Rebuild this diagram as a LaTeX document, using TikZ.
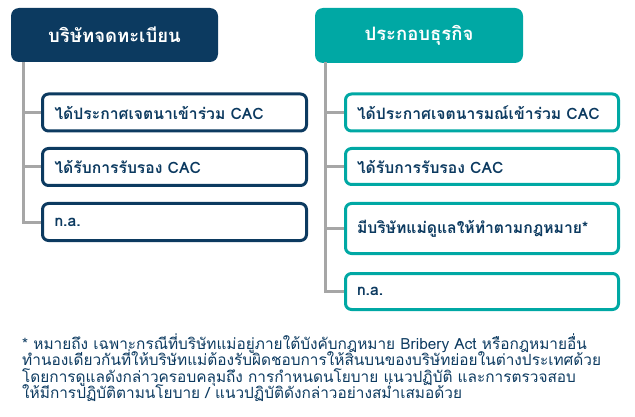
\documentclass[tikz,border=0pt]{standalone}
\usepackage{fontspec}
\newfontfamily\thaifont[Script=Thai]{Loma}
\definecolor{navy}{HTML}{0C3A60}
\definecolor{teal}{HTML}{00A8A4}
\definecolor{spine}{HTML}{A6A6A6}
\begin{document}
\begin{tikzpicture}[x=1pt,y=-1pt,
  head/.style={fill=#1,rounded corners=8pt,text=white,font=\thaifont\bfseries\fontsize{18.5}{22}\selectfont,inner sep=0pt},
  item/.style={draw=#1,line width=3pt,rounded corners=6pt,fill=white,text=navy,font=\thaifont\bfseries\fontsize{15.7}{19}\selectfont,align=left,inner ysep=0pt},
  conn/.style={draw=spine,line width=3pt},
  note/.style={anchor=base west,text=navy,font=\thaifont\fontsize{15.4}{18}\selectfont,inner sep=0pt}]
\useasboundingbox (0,0) rectangle (635,417);
% headers
\node[head=navy,minimum width=207pt,minimum height=54pt] (lh) at (114.5,35) {บริษัทจดทะเบียน};
\node[head=teal,minimum width=208pt,minimum height=55pt] (rh) at (419,35.5) {ประกอบธุรกิจ};
% spines
\coordinate (ls) at (23,62);
\coordinate (rs) at (325,62);
% left items
\node[item=navy,minimum width=264pt,minimum height=37pt,text width=240pt,inner xsep=12pt] (a1) at (174.5,112.5) {ได้ประกาศเจตนาเข้าร่วม CAC};
\node[item=navy,minimum width=264pt,minimum height=37pt,text width=240pt,inner xsep=12pt] (a2) at (174.5,167) {ได้รับการรับรอง CAC};
\node[item=navy,minimum width=264pt,minimum height=37pt,text width=240pt,inner xsep=12pt] (a3) at (174.5,222) {n.a.};
% right items
\node[item=teal,minimum width=273pt,minimum height=37pt,text width=250pt,inner xsep=11.5pt] (b1) at (482,112.5) {ได้ประกาศเจตนารมณ์เข้าร่วม CAC};
\node[item=teal,minimum width=273pt,minimum height=36pt,text width=250pt,inner xsep=11.5pt] (b2) at (482,166.5) {ได้รับการรับรอง CAC};
\node[item=teal,minimum width=273pt,minimum height=50pt,text width=250pt,inner xsep=11.5pt] (b3) at (482,228.5) {มีบริษัทแม่ดูแลให้ทำตามกฎหมาย*};
\node[item=teal,minimum width=273pt,minimum height=36pt,text width=250pt,inner xsep=11.5pt] (b4) at (482,291.5) {n.a.};
% connectors
\path[conn] (ls) |- (a3.west);
\path[conn] (ls |- a1.west) -- (a1.west);
\path[conn] (ls |- a2.west) -- (a2.west);
\path[conn] (rs) |- (b4.west);
\path[conn] (rs |- b1.west) -- (b1.west);
\path[conn] (rs |- b2.west) -- (b2.west);
\path[conn] (rs |- b3.west) -- (b3.west);
% footnote
\node[note] (n1) at (22,349) {* หมายถึง เฉพาะกรณีที่บริษัทแม่อยู่ภายใต้บังคับกฎหมาย Bribery Act หรือกฎหมายอื่น};
\node[note] (n2) at (22,365.5) {ทำนองเดียวกันที่ให้บริษัทแม่ต้องรับผิดชอบการให้สินบนของบริษัทย่อยในต่างประเทศด้วย};
\node[note] (n3) at (22,382) {โดยการดูแลดังกล่าวครอบคลุมถึง การกำหนดนโยบาย แนวปฏิบัติ และการตรวจสอบ};
\node[note] (n4) at (22,398.5) {ให้มีการปฏิบัติตามนโยบาย / แนวปฏิบัติดังกล่าวอย่างสม่ำเสมอด้วย};
\end{tikzpicture}
\end{document}
